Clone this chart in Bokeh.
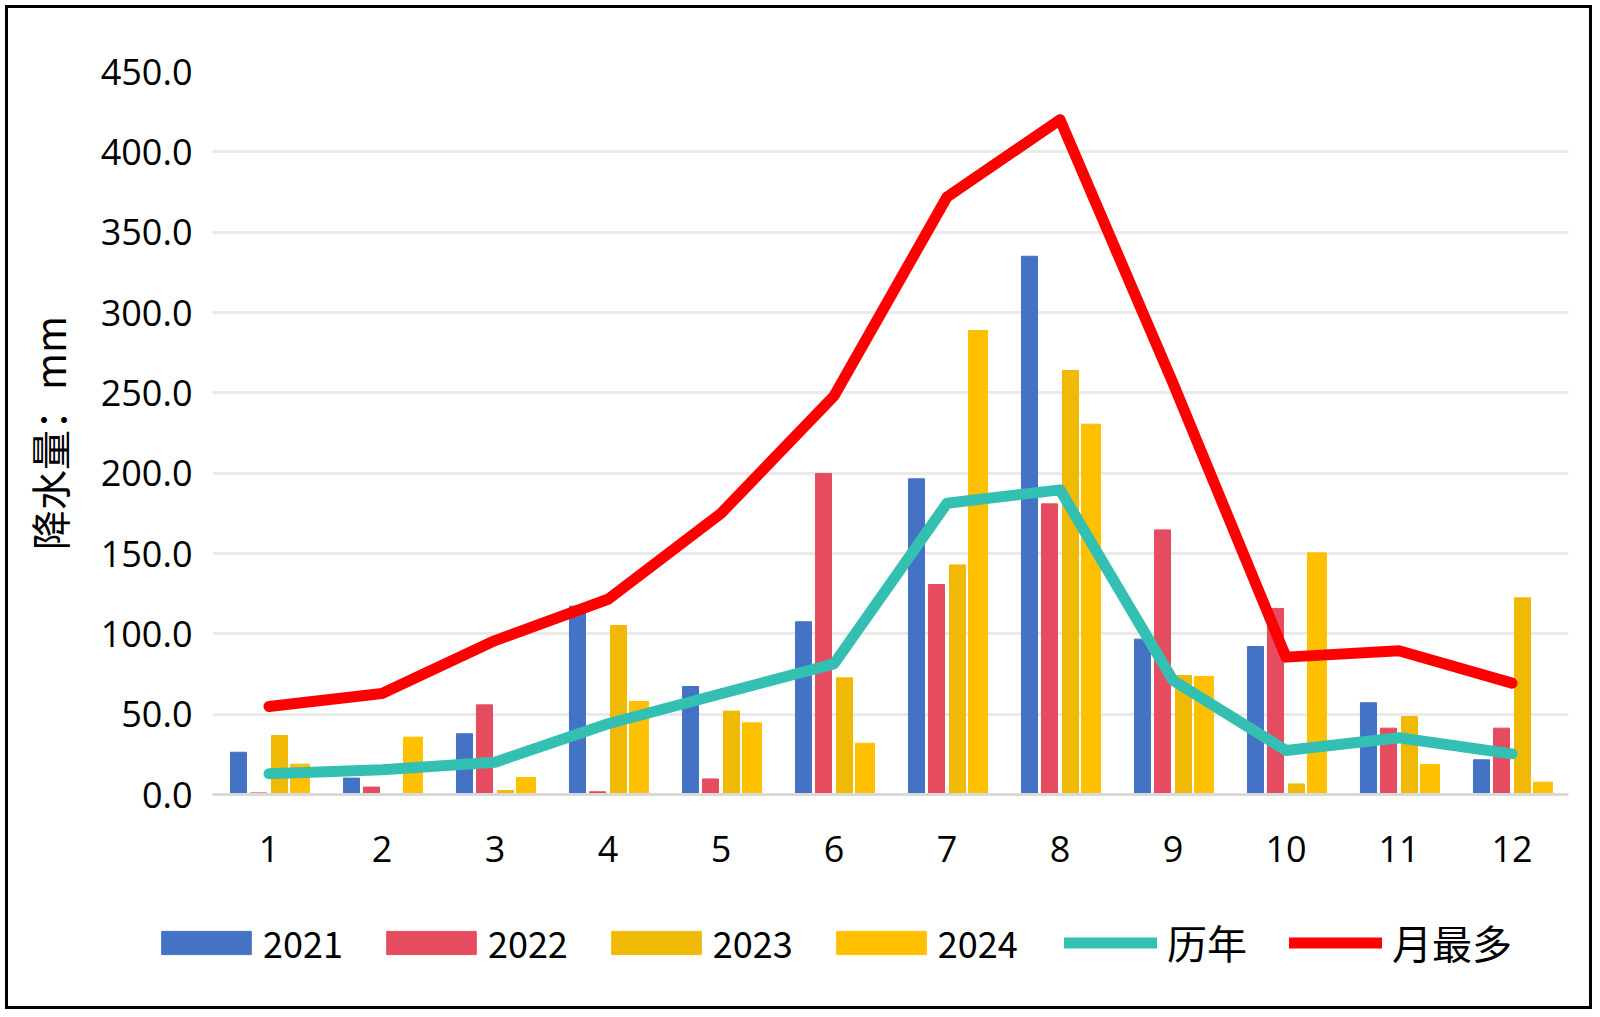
from bokeh.plotting import figure
from bokeh.layouts import column, row
from bokeh.models import ColumnDataSource, Legend, LegendItem, SingleIntervalTicker, PrintfTickFormatter, Range1d
from bokeh.transform import dodge
from bokeh.embed import file_html
from bokeh.resources import INLINE

months = ["1", "2", "3", "4", "5", "6", "7", "8", "9", "10", "11", "12"]
y2021 = [26.3, 10.2, 37.8, 117.2, 67.2, 107.5, 196.5, 335.0, 96.7, 92.1, 57.1, 21.6]
y2022 = [1.0, 4.6, 55.8, 1.7, 9.7, 199.8, 130.7, 180.9, 164.7, 115.8, 41.3, 41.3]
y2023 = [36.7, 0.0, 2.5, 105.2, 51.9, 72.6, 142.9, 263.9, 74.0, 6.6, 48.5, 122.4]
y2024 = [18.9, 35.7, 10.6, 57.9, 44.6, 31.9, 288.8, 230.5, 73.4, 150.4, 18.7, 7.7]
normal = [12.9, 15.4, 20.1, 44.0, 62.7, 81.3, 181.3, 189.6, 71.0, 27.4, 35.3, 25.3]
monthmax = [54.8, 62.9, 95.8, 121.5, 175.0, 248.0, 371.9, 420.0, 256.0, 85.5, 89.5, 69.3]
series_names = ["2021", "2022", "2023", "2024", "历年", "月最多"]
colors = ["#4472C4", "#E64C60", "#F0B905", "#FFC000", "#33BFB2", "#FF0000"]

src = ColumnDataSource(dict(m=months, a=y2021, b=y2022, c=y2023, d=y2024, n=normal, x=monthmax))

W = 1581
p = figure(width=W, height=880, x_range=months, y_range=Range1d(0, 450),
           output_backend="svg", toolbar_location=None,
           min_border_left=204, min_border_right=21, min_border_top=63, min_border_bottom=94)
p.outline_line_color = None
p.background_fill_color = "white"
p.border_fill_color = "white"

w = 0.142
p.vbar(x=dodge("m", -0.270, range=p.x_range), top="a", width=w, source=src, color=colors[0])
p.vbar(x=dodge("m", -0.093, range=p.x_range), top="b", width=w, source=src, color=colors[1])
p.vbar(x=dodge("m", 0.093, range=p.x_range), top="c", width=w, source=src, color=colors[2])
p.vbar(x=dodge("m", 0.274, range=p.x_range), top="d", width=0.168, source=src, color=colors[3])
p.line(x="m", y="n", source=src, line_color=colors[4], line_width=11, line_cap="round", line_join="round")
p.line(x="m", y="x", source=src, line_color=colors[5], line_width=11, line_cap="round", line_join="round")

p.xgrid.grid_line_color = None
p.ygrid.grid_line_color = "#EAEAEA"
p.ygrid.grid_line_width = 3
p.yaxis.ticker = SingleIntervalTicker(interval=50)
p.yaxis.formatter = PrintfTickFormatter(format="%.1f")

for ax in (p.xaxis[0], p.yaxis[0]):
    ax.major_tick_line_color = None
    ax.minor_tick_line_color = None
    ax.major_label_text_font = "Open Sans"
    ax.major_label_text_font_size = "36px"
    ax.major_label_text_color = "black"

p.yaxis.axis_line_color = None
p.yaxis.major_label_standoff = 14
p.xaxis.axis_line_color = "#D9D9D9"
p.xaxis.axis_line_width = 3
p.xaxis.major_label_standoff = 35

p.yaxis.axis_label = "降水量：mm"
p.yaxis.axis_label_text_font = "Noto Sans CJK SC"
p.yaxis.axis_label_text_font_size = "40px"
p.yaxis.axis_label_text_font_style = "normal"
p.yaxis.axis_label_text_color = "black"
p.yaxis.axis_label_standoff = 20

# legend strip below the chart
p2 = figure(width=W, height=118, x_range=Range1d(0, 1), y_range=Range1d(0, 1),
            x_axis_type=None, y_axis_type=None, output_backend="svg", toolbar_location=None,
            min_border=0)
p2.outline_line_color = None
p2.xgrid.grid_line_color = None
p2.ygrid.grid_line_color = None
off = ColumnDataSource(dict(x=[-5, -4], y=[-5, -4]))  # swatch-only renderers, outside the view
bar_r = [p2.vbar(x="x", top="y", width=0.1, source=off, color=colors[i]) for i in range(4)]
line_r = [p2.line(x="x", y="y", source=off, line_color=colors[i], line_width=11,
                  line_cap="round", line_join="round") for i in range(4, 6)]


def style(lg, size, gw, gh, standoff, spacing):
    lg.label_text_font = "Noto Sans CJK SC"
    lg.label_text_font_size = size
    lg.label_text_color = "black"
    lg.glyph_width = gw
    lg.glyph_height = gh
    lg.label_standoff = standoff
    lg.spacing = spacing
    lg.padding = 0
    lg.margin = 0
    lg.border_line_color = None
    lg.background_fill_alpha = 0


leg1 = Legend(items=[LegendItem(label=n, renderers=[r]) for n, r in zip(series_names[:4], bar_r)],
              orientation="horizontal", location=(142, 38))
style(leg1, "36px", 112, 29, 1, 32)
leg2 = Legend(items=[LegendItem(label=n, renderers=[r]) for n, r in zip(series_names[4:], line_r)],
              orientation="horizontal", location=(1056, 35))
style(leg2, "40px", 93, 29, 10, 42)
p2.add_layout(leg1, "center")
p2.add_layout(leg2, "center")

layout = column(p, row(p2), spacing=0)
layout.styles = {"border": "3px solid black", "margin": "5px 0px 0px 5px"}

open("out.html", "w").write(file_html(layout, INLINE))
